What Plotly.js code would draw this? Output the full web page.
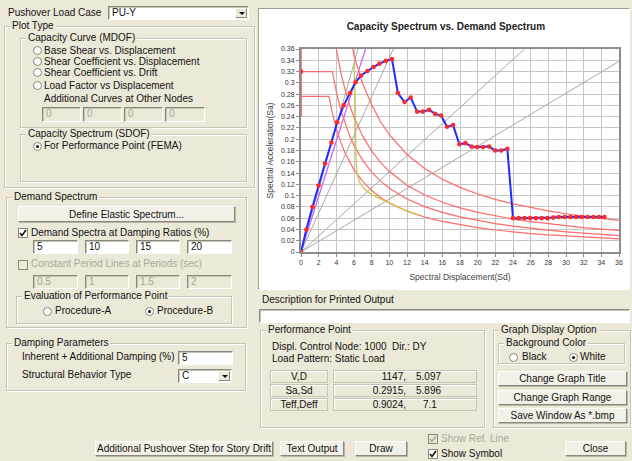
<!DOCTYPE html>
<html><head><meta charset="utf-8">
<script src="https://cdn.plot.ly/plotly-3.0.1.min.js"></script>
<style>
*{box-sizing:border-box}
body{margin:0;width:632px;height:461px;background:#ece9d8;position:relative;overflow:hidden;font-family:"Liberation Sans",Arial,sans-serif;font-size:10px;color:#111}
.t{position:absolute;white-space:nowrap;line-height:12px}
.gr{color:#aaa89c}
.g{position:absolute;border:1px solid #c7c4b3;box-shadow:1px 1px 0 #fff, inset 1px 1px 0 #fff}
.g>span{position:absolute;top:-7px;left:5px;background:#ece9d8;padding:0 2px;line-height:12px;white-space:nowrap}
.b{position:absolute;background:#f3f1e7;border:1px solid;border-color:#fff #8a887c #8a887c #fff;box-shadow:1px 1px 0 #b9b6a8;display:flex;align-items:center;justify-content:center;white-space:nowrap}
.i{position:absolute;background:#fff;border:1px solid;border-color:#8a887c #fff #fff #8a887c;box-shadow:inset 1px 1px 0 #c7c4b3;padding-left:3px;line-height:12px;white-space:nowrap;overflow:hidden}
.i.d{background:#ece9d8;color:#a8a69a}
.r{position:absolute;width:9px;height:9px;border-radius:50%;border:1px solid #8a887c;background:#fff}
.r.on::after{content:"";position:absolute;left:2px;top:2px;width:3px;height:3px;border-radius:50%;background:#111}
.c{position:absolute;width:10px;height:10px;border:1px solid #8a887c;background:#fff}
.c.d{background:#ece9d8}
.c svg{position:absolute;left:0;top:0}
.arr{position:absolute;right:1px;top:1px;width:12px;height:10px;background:#ece9d8;border:1px solid;border-color:#fff #8a887c #8a887c #fff}
.arr::after{content:"";position:absolute;left:3px;top:3px;border-left:3px solid transparent;border-right:3px solid transparent;border-top:3px solid #111}
.cell{position:absolute;border:1px solid #c7c4b3;box-shadow:inset 1px 1px 0 #fff;height:13px;line-height:11px}
.cell span{position:absolute;top:0}
#panel{position:absolute;left:258px;top:8px;width:372px;height:282px;background:#fff;border:1px solid;border-color:#a09e90 #fff #fff #a09e90}
#chart{position:absolute;left:260px;top:11px;width:368px;height:277px}
</style></head><body>

<div class="t" style="left:8px;top:7px">Pushover Load Case</div>
<div class="i" style="left:108px;top:6px;width:141px;height:14px">PU-Y<div class="arr"></div></div>

<div class="g" style="left:4px;top:26px;width:251px;height:162px"><span>Plot Type</span></div>
<div class="g" style="left:20px;top:38px;width:227px;height:90px"><span>Capacity Curve (MDOF)</span></div>
<div class="r" style="left:33px;top:46px"></div><div class="t" style="left:44px;top:45px">Base Shear vs. Displacement</div>
<div class="r" style="left:33px;top:57px"></div><div class="t" style="left:44px;top:56px">Shear Coefficient vs. Displacement</div>
<div class="r" style="left:33px;top:68px"></div><div class="t" style="left:44px;top:67px">Shear Coefficient vs. Drift</div>
<div class="r" style="left:33px;top:81px"></div><div class="t" style="left:44px;top:80px">Load Factor vs Displacement</div>
<div class="t" style="left:44px;top:93px">Additional Curves at Other Nodes</div>
<div class="i d" style="left:42px;top:107px;width:39px;height:15px">0</div>
<div class="i d" style="left:83px;top:107px;width:39px;height:15px">0</div>
<div class="i d" style="left:124px;top:107px;width:39px;height:15px">0</div>
<div class="i d" style="left:165px;top:107px;width:40px;height:15px">0</div>
<div class="g" style="left:20px;top:134px;width:227px;height:48px"><span>Capacity Spectrum (SDOF)</span></div>
<div class="r on" style="left:33px;top:142px"></div><div class="t" style="left:44px;top:140px">For Performance Point (FEMA)</div>

<div class="g" style="left:6px;top:197px;width:241px;height:131px"><span>Demand Spectrum</span></div>
<div class="b" style="left:18px;top:206px;width:217px;height:16px">Define Elastic Spectrum...</div>
<div class="c" style="left:18px;top:228px"><svg width="8" height="8"><polyline points="1,4 3,6.5 7,1" fill="none" stroke="#111" stroke-width="1.6"/></svg></div>
<div class="t" style="left:31px;top:227px">Demand Spectra at Damping Ratios (%)</div>
<div class="i" style="left:33px;top:240px;width:45px;height:14px">5</div>
<div class="i" style="left:85px;top:240px;width:44px;height:14px">10</div>
<div class="i" style="left:136px;top:240px;width:44px;height:14px">15</div>
<div class="i" style="left:187px;top:240px;width:45px;height:14px">20</div>
<div class="c d" style="left:18px;top:260px"></div>
<div class="t gr" style="left:31px;top:258px">Constant Period Lines at Periods (sec)</div>
<div class="i d" style="left:33px;top:275px;width:45px;height:14px">0.5</div>
<div class="i d" style="left:85px;top:275px;width:44px;height:14px">1</div>
<div class="i d" style="left:136px;top:275px;width:44px;height:14px">1.5</div>
<div class="i d" style="left:187px;top:275px;width:45px;height:14px">2</div>
<div class="g" style="left:16px;top:296px;width:216px;height:28px"><span>Evaluation of Performance Point</span></div>
<div class="r" style="left:43px;top:307px"></div><div class="t" style="left:55px;top:305px">Procedure-A</div>
<div class="r on" style="left:145px;top:307px"></div><div class="t" style="left:157px;top:305px">Procedure-B</div>

<div class="g" style="left:6px;top:343px;width:240px;height:48px"><span>Damping Parameters</span></div>
<div class="t" style="left:22px;top:351px">Inherent + Additional Damping (%)</div>
<div class="i" style="left:178px;top:351px;width:55px;height:14px">5</div>
<div class="t" style="left:22px;top:369px">Structural Behavior Type</div>
<div class="i" style="left:178px;top:369px;width:54px;height:14px">C<div class="arr"></div></div>

<div id="panel"></div>
<div id="chart"></div>

<div class="t" style="left:262px;top:294px">Description for Printed Output</div>
<div class="i" style="left:259px;top:309px;width:371px;height:14px"></div>

<div class="g" style="left:260px;top:330px;width:225px;height:98px"><span>Performance Point</span></div>
<div class="t" style="left:272px;top:341px">Displ. Control Node: 1000&nbsp; Dir.: DY</div>
<div class="t" style="left:272px;top:353px">Load Pattern: Static Load</div>
<div class="cell" style="left:270px;top:370px;width:58px;text-align:center">V,D</div>
<div class="cell" style="left:333px;top:370px;width:144px"><span style="right:70px">1147,</span><span style="left:82px">5.097</span></div>
<div class="cell" style="left:270px;top:384px;width:58px;text-align:center">Sa,Sd</div>
<div class="cell" style="left:333px;top:384px;width:144px"><span style="right:70px">0.2915,</span><span style="left:82px">5.896</span></div>
<div class="cell" style="left:270px;top:398px;width:58px;text-align:center">Teff,Deff</div>
<div class="cell" style="left:333px;top:398px;width:144px"><span style="right:70px">0.9024,</span><span style="left:89px">7.1</span></div>

<div class="g" style="left:493px;top:330px;width:138px;height:98px"><span>Graph Display Option</span></div>
<div class="g" style="left:498px;top:343px;width:127px;height:21px"><span>Background Color</span></div>
<div class="r" style="left:509px;top:353px"></div><div class="t" style="left:522px;top:351px">Black</div>
<div class="r on" style="left:569px;top:353px"></div><div class="t" style="left:580px;top:351px">White</div>
<div class="b" style="left:498px;top:371px;width:129px;height:15px">Change Graph Title</div>
<div class="b" style="left:498px;top:390px;width:129px;height:15px">Change Graph Range</div>
<div class="b" style="left:498px;top:408px;width:129px;height:15px">Save Window As *.bmp</div>

<div class="b" style="left:95px;top:441px;width:178px;height:15px">Additional Pushover Step for Story Drift</div>
<div class="b" style="left:280px;top:441px;width:64px;height:15px">Text Output</div>
<div class="b" style="left:355px;top:441px;width:52px;height:15px">Draw</div>
<div class="b" style="left:565px;top:441px;width:61px;height:15px">Close</div>
<div class="c d" style="left:428px;top:434px"><svg width="8" height="8"><polyline points="1,4 3,6.5 7,1" fill="none" stroke="#aaa89c" stroke-width="1.6"/></svg></div>
<div class="t gr" style="left:441px;top:433px">Show Ref. Line</div>
<div class="c" style="left:428px;top:449px"><svg width="8" height="8"><polyline points="1,4 3,6.5 7,1" fill="none" stroke="#111" stroke-width="1.6"/></svg></div>
<div class="t" style="left:441px;top:448px">Show Symbol</div>

<script>
// Capacity spectrum (SDOF) points
const capSd = [0, 0.6, 1.3, 1.98, 2.72, 3.44, 4.1, 4.83, 5.55, 6.17, 6.8, 7.51, 8.21, 8.88, 9.6, 10.3,
  10.97, 11.72, 12.42, 13.14, 13.8, 14.5, 15.18, 15.86, 16.54, 17.22, 17.93, 18.61, 19.3, 19.93, 20.6, 21.3,
  21.98, 22.66, 23.36, 24.0, 24.65, 25.3, 25.95, 26.6, 27.25, 27.9, 28.55, 29.2, 29.85, 30.5, 31.15, 31.8,
  32.45, 33.1, 33.75, 34.35];
const capSa = [0, 0.04, 0.08, 0.118, 0.157, 0.194, 0.23, 0.26, 0.282, 0.301, 0.313, 0.321, 0.328, 0.334, 0.339, 0.342,
  0.282, 0.266, 0.274, 0.249, 0.249, 0.252, 0.245, 0.242, 0.222, 0.225, 0.191, 0.193, 0.187, 0.186, 0.186, 0.187,
  0.18, 0.18, 0.183, 0.06, 0.06, 0.06, 0.06, 0.06, 0.06, 0.06, 0.061, 0.062, 0.062, 0.062, 0.062, 0.062,
  0.062, 0.062, 0.062, 0.062];

// Demand spectra at damping ratios 5, 10, 15, 20 %
const d5Sd = [0, 0, 4.2, 5.8, 6, 7, 8, 9, 10, 12, 14, 16, 18, 20, 22, 24, 26, 28, 30, 32, 34, 36];
const d5Sa = [0.24, 0.5, 0.5, 0.36, 0.348, 0.298, 0.261, 0.231, 0.208, 0.173, 0.148, 0.129, 0.1146, 0.1029, 0.0933, 0.0853, 0.0786, 0.0728, 0.0678, 0.0634, 0.0596, 0.0561];
const d10Sd = [0, 0, 3.6, 4.0, 4.5, 5, 5.5, 6, 7, 8, 9, 10, 12, 14, 16, 18, 20, 22, 24, 26, 28, 30, 32, 34, 36];
const d10Sa = [0.24, 0.40, 0.40, 0.36, 0.319, 0.287, 0.261, 0.239, 0.205, 0.179, 0.159, 0.1426, 0.1184, 0.1012, 0.0883, 0.0783, 0.0704, 0.0638, 0.0584, 0.0537, 0.0498, 0.0463, 0.0433, 0.0407, 0.0383];
const d15Sd = [0, 0, 3.55, 4, 4.5, 5, 5.5, 6, 7, 8, 9, 10, 12, 14, 16, 18, 20, 22, 24, 26, 28, 30, 32, 34, 36];
const d15Sa = [0.24, 0.32, 0.32, 0.284, 0.252, 0.227, 0.206, 0.189, 0.162, 0.1415, 0.1257, 0.113, 0.0939, 0.0804, 0.0702, 0.0623, 0.0558, 0.0504, 0.0458, 0.0420, 0.0387, 0.0358, 0.0333, 0.0311, 0.0292];
const d20Sd = [0, 0, 3.17, 3.5, 4, 4.5, 5, 5.5, 6, 7, 8, 9, 10, 12, 14, 16, 18, 20, 22, 24, 26, 28, 30, 32, 34, 36];
const d20Sa = [0.24, 0.276, 0.276, 0.25, 0.219, 0.1944, 0.175, 0.159, 0.1457, 0.1247, 0.109, 0.0968, 0.0871, 0.0724, 0.062, 0.0542, 0.0481, 0.0432, 0.039, 0.0356, 0.0327, 0.0302, 0.0281, 0.0262, 0.0245, 0.0231];

// Reduced (yellow) demand curve
const redSd = [5.98, 6.08, 6.15, 6.2, 6.25, 6.35, 6.6, 7.1, 8.0, 9.0, 10.0, 11.2, 12.3, 13.3];
const redSa = [0.335, 0.30, 0.25, 0.2, 0.16, 0.14, 0.125, 0.113, 0.102, 0.094, 0.087, 0.078, 0.071, 0.065];

// Initial stiffness line (magenta) and reference lines through origin (gray)
const initSd = [0, 7.3];
const initSa = [0, 0.36];
const refEndSd = [6.45, 10.45, 25.3, 36];
const refEndSa = [0.36, 0.36, 0.36, 0.338];

// Symbol on the left edge
const markSd = [0];
const markSa = [0.32];

// Axis ticks
const xTicks = [0,2,4,6,8,10,12,14,16,18,20,22,24,26,28,30,32,34,36];
const yTicks = [0,0.02,0.04,0.06,0.08,0.1,0.12,0.14,0.16,0.18,0.2,0.22,0.24,0.26,0.28,0.3,0.32,0.34,0.36];
const yTickText = ['0','0.02','0.04','0.06','0.08','0.1','0.12','0.14','0.16','0.18','0.2','0.22','0.24','0.26','0.28','0.3','0.32','0.34','0.36'];

const red = '#ff6a6a';
const traces = [];
refEndSd.forEach((s, k) => traces.push({x:[0, s], y:[0, refEndSa[k]], mode:'lines', line:{color:'#a8a8a8', width:1}}));
traces.push({x:initSd, y:initSa, mode:'lines', line:{color:'#c868f0', width:1.3}});
[[d5Sd,d5Sa],[d10Sd,d10Sa],[d15Sd,d15Sa],[d20Sd,d20Sa]].forEach(p =>
  traces.push({x:p[0], y:p[1], mode:'lines', line:{color:red, width:1.2}}));
traces.push({x:redSd, y:redSa, mode:'lines', line:{color:'#c8c846', width:1.3, shape:'spline'}});
traces.push({x:capSd, y:capSa, mode:'lines+markers', line:{color:'#1e2cff', width:2},
  marker:{color:'#ff2a2a', size:4.6, line:{width:0}}});
traces.push({x:markSd, y:markSa, mode:'markers', marker:{color:'#ff2a2a', size:4.6}, cliponaxis:false});

const axFont = {family:'"Liberation Sans", Arial, sans-serif', size:7, color:'#333'};
const layout = {
  width:368, height:277,
  margin:{l:41, r:9, t:38, b:36, pad:0},
  paper_bgcolor:'#fff', plot_bgcolor:'#fff',
  showlegend:false,
  font:{family:'"Liberation Sans", Arial, sans-serif'},
  title:{text:'<b>Capacity Spectrum vs. Demand Spectrum</b>', font:{size:10, color:'#222'},
    xref:'container', x:0.505, xanchor:'center', yref:'container', y:1-15/277, yanchor:'middle'},
  xaxis:{range:[0,36], tickvals:xTicks, ticktext:xTicks.map(String), showgrid:true, gridcolor:'#c6c6c6', gridwidth:1,
    showline:true, linecolor:'#8c8c8c', linewidth:2, mirror:true, ticks:'outside', ticklen:3, tickcolor:'#8c8c8c',
    tickfont:axFont, zeroline:false, automargin:false,
    title:{text:'Spectral Displacement(Sd)', font:{size:8.5, color:'#444'}, standoff:9}},
  yaxis:{range:[0,0.36], tickvals:yTicks, ticktext:yTickText, showgrid:true, gridcolor:'#c6c6c6', gridwidth:1,
    showline:true, linecolor:'#8c8c8c', linewidth:2, mirror:true, ticks:'outside', ticklen:3, tickcolor:'#8c8c8c',
    tickfont:axFont, zeroline:false, automargin:false,
    title:{text:'Spectral Acceleration(Sa)', font:{size:8.5, color:'#444'}, standoff:6}}
};
Plotly.newPlot('chart', traces, layout, {displayModeBar:false, staticPlot:true});
</script>
</body></html>
